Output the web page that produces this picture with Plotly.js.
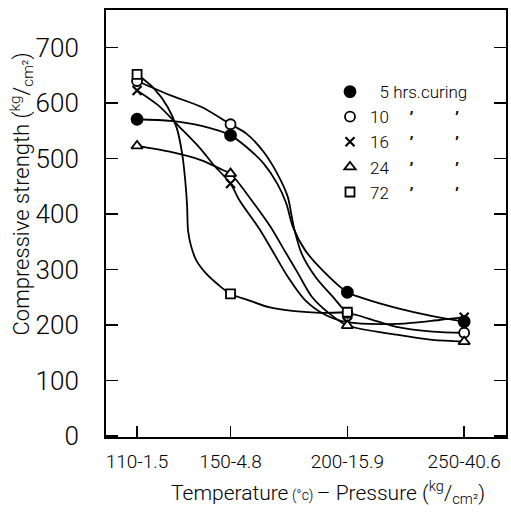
<!DOCTYPE html>
<html>
<head>
<meta charset="utf-8">
<script src="https://cdn.plot.ly/plotly-3.0.1.min.js"></script>
<style>html,body{margin:0;padding:0;background:#fff;}#chart{width:511px;height:513px;}</style>
</head>
<body>
<div id="chart"></div>
<script>
// Categories (temperature °C - pressure kg/cm2)
const temps = [110, 150, 200, 250];
const tickLabels = ['110-1.5', '150-4.8', '200-15.9', '250-40.6'];
const yTicks = [0, 100, 200, 300, 400, 500, 600, 700];

// Measured points (kg/cm2)
const hrs5  = [571, 542, 259, 206];
const hrs10 = [640, 562, 222, 186];
const hrs16 = [623, 455, 205, 214];
const hrs24 = [523, 473, 199, 170];
const hrs72 = [652, 256, 223, null];

// Hand-drawn fitted curves
const curve5x  = [110, 124.4, 137.6, 150, 156.8, 164.2, 170.0, 173.8, 176.7, 181.9, 189.3, 200, 206.9, 221.7, 236.4, 250];
const curve5y  = [571, 568, 559, 542, 521, 491, 455, 420, 377, 335, 299, 259, 248, 230, 216, 206];
const curve10x = [110, 124.4, 137.6, 150, 156.8, 164.2, 170.0, 174.5, 176.1, 177.4, 180.4, 186.3, 193.7, 200, 204.0, 221.7, 236.4, 250];
const curve10y = [640, 614, 593, 562, 545, 512, 473, 431, 398, 371, 329, 287, 251, 222, 218, 196, 188, 186];
const curve16x = [110, 119.1, 128.2, 136.9, 142.9, 150, 153.8, 162.7, 168.6, 174.5, 181.9, 190.7, 200, 221.7, 239.4, 250];
const curve16y = [623, 596, 557, 519, 488, 455, 425, 371, 329, 287, 245, 218, 205, 202, 209, 214];
const curve24x = [110, 124.4, 137.6, 146.9, 150, 159.0, 167.1, 173.0, 178.9, 184.8, 192.2, 200, 221.7, 236.4, 250];
const curve24y = [523, 512, 497, 479, 473, 425, 377, 335, 293, 251, 221, 199, 182, 173, 170];
const curve72x = [110, 117.1, 123.1, 127.0, 129.4, 130.6, 131.4, 131.8, 133.0, 135.3, 139.7, 144.9, 150, 157.5, 166.4, 177.4, 188.5, 200];
const curve72y = [652, 627, 593, 555, 506, 461, 416, 371, 344, 317, 292, 272, 256, 245, 232, 225, 222, 223];

const S = '\u00A0';
const ditto = S.repeat(5) + '<b>\u2019</b>' + S.repeat(10) + '<b>\u2019</b>';
const names = [
  '\u2007' + '5 hrs.curing',
  '10' + ditto,
  '16' + ditto,
  '24' + ditto,
  '72' + ditto
];

const FONT = 'Roboto, "Liberation Sans", sans-serif';

function curve(x, y) {
  return {x: x, y: y, type: 'scatter', mode: 'lines', showlegend: false, hoverinfo: 'skip',
          line: {color: '#000', width: 1.8, shape: 'spline', smoothing: 0.8}};
}
function pts(y, name, symbol, filled, size) {
  return {x: temps, y: y, type: 'scatter', mode: 'markers', name: name,
          marker: {symbol: symbol, size: size, color: filled ? '#000' : '#fff',
                   line: {color: '#000', width: symbol.indexOf('x') === 0 ? 2.2 : 1.8}}};
}

const data = [
  curve(curve5x, curve5y), curve(curve10x, curve10y), curve(curve16x, curve16y),
  curve(curve24x, curve24y), curve(curve72x, curve72y),
  pts(hrs5, names[0], 'circle', true, 11),
  pts(hrs10, names[1], 'circle', false, 10),
  pts(hrs16, names[2], 'x-thin', false, 9),
  pts(hrs24, names[3], 'triangle-up', false, 10),
  pts(hrs72, names[4], 'square', false, 9)
];

const layout = {
  width: 511, height: 513,
  margin: {l: 106, r: 5, t: 10, b: 76},
  paper_bgcolor: '#fff', plot_bgcolor: '#fff',
  font: {family: FONT, color: '#000', weight: 300},
  showlegend: true,
  legend: {x: 0.56, y: 0.85, xanchor: 'left', yanchor: 'top', bgcolor: 'rgba(0,0,0,0)',
           font: {size: 17, family: FONT, color: '#000', weight: 300}, itemwidth: 30, tracegroupgap: 0},
  xaxis: {
    type: 'linear', range: [96.7, 267.9],
    tickvals: temps, ticktext: tickLabels,
    ticks: 'inside', ticklen: 11, tickwidth: 1.5, tickcolor: '#000',
    showline: true, linewidth: 2, linecolor: '#000', mirror: true,
    showgrid: false, zeroline: false,
    tickfont: {size: 19, family: FONT, weight: 300},
    ticklabelstandoff: 6
  },
  yaxis: {
    range: [-2, 768],
    tickvals: yTicks,
    ticks: 'inside', ticklen: 12, tickwidth: 1.5, tickcolor: '#000',
    showline: true, linewidth: 2, linecolor: '#000', mirror: 'ticks',
    showgrid: false, zeroline: false,
    tickfont: {size: 26, family: FONT, weight: 300},
    ticklabelstandoff: 20
  },
  annotations: [
    {xref: 'paper', yref: 'paper', x: (328 - 106) / 400, y: -0.13, xanchor: 'center', yanchor: 'middle',
     showarrow: false, font: {size: 21, family: FONT, weight: 300},
     text: 'Temperature<span style="font-size:14px"> (°c) </span>\u2013 Pressure (<sup>kg</sup>/<sub>cm²</sub>)'},
    {xref: 'paper', yref: 'paper', x: (22 - 106) / 400, y: (436 - 194) / 426, xanchor: 'center', yanchor: 'middle',
     showarrow: false, textangle: -90, font: {size: 22, family: FONT, weight: 300},
     text: 'Compressive strength (<sup>kg</sup>/<sub>cm²</sub>)'}
  ]
};

Plotly.newPlot('chart', data, layout, {displayModeBar: false, staticPlot: true});
</script>
</body>
</html>
